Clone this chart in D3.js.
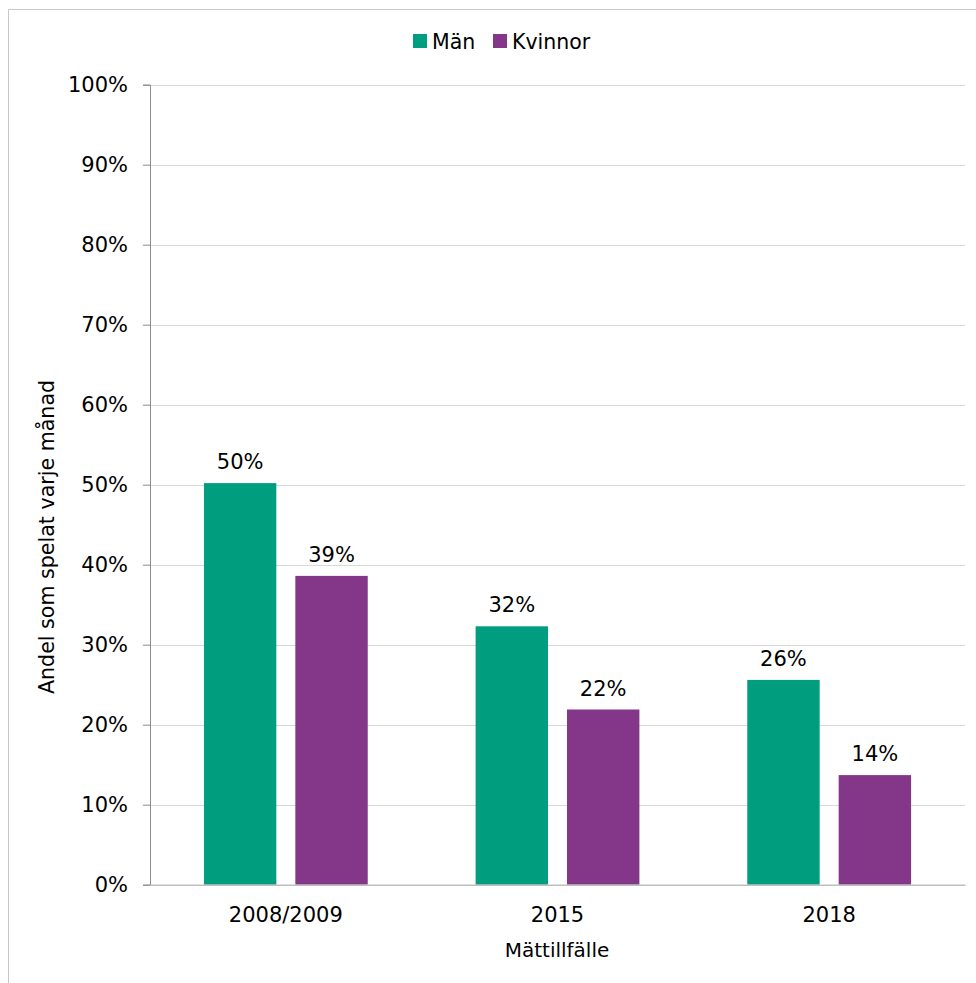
<!DOCTYPE html>
<html>
<head>
<meta charset="utf-8">
<script src="https://cdn.jsdelivr.net/npm/d3@7"></script>
<style>
  body { margin: 0; background: #fff; }
  svg { display: block; }
  text { font-family: "DejaVu Sans", Verdana, sans-serif; fill: #000; }
</style>
</head>
<body>
<svg id="chart" width="976" height="983"></svg>
<script>
const categories = ["2008/2009", "2015", "2018"];
const seriesNames = ["Män", "Kvinnor"];
const man = [50.2, 32.3, 25.6];
const kvinnor = [38.6, 21.9, 13.7];
const valueLabels = [["50%", "32%", "26%"], ["39%", "22%", "14%"]];
const yTicks = [0, 10, 20, 30, 40, 50, 60, 70, 80, 90, 100];
const colors = ["#009e7e", "#843789"];
const yTitle = "Andel som spelat varje månad";
const xTitle = "Mättillfälle";

(function () {
const svg = d3.select("#chart");
const pLeft = 150, pRight = 965, pTop = 84.7, pBottom = 884.7;
const fs = 21;

// outer border (top and left visible)
svg.append("path").attr("d", "M8.5,983 L8.5,9.5 L976,9.5")
  .attr("fill", "none").attr("stroke", "#c8c8c8").attr("stroke-width", 1);

const x = d3.scaleBand().domain(categories).range([pLeft, pRight]).paddingInner(0).paddingOuter(0);
const y = d3.scaleLinear().domain([0, 100]).range([pBottom, pTop]);

// gridlines
svg.append("g").selectAll("line").data(yTicks.filter(d => d > 0)).join("line")
  .attr("x1", pLeft).attr("x2", pRight)
  .attr("y1", d => Math.round(y(d)) + 0.5).attr("y2", d => Math.round(y(d)) + 0.5)
  .attr("stroke", "#d9d9d9").attr("stroke-width", 1);

// y axis
const yAxis = d3.axisLeft(y).tickValues(yTicks).tickFormat(d => d + "%").tickSize(7).tickPadding(15);
const gy = svg.append("g").attr("transform", `translate(${pLeft},0)`).call(yAxis);
gy.select(".domain").attr("stroke", "#8c8c8c");
gy.selectAll(".tick line").attr("stroke", "#8c8c8c");
gy.selectAll(".tick text").attr("font-size", fs).attr("font-family", "DejaVu Sans").attr("fill", "#000");

// bars
const data = [man, kvinnor];
const barW = 72.4, gap = 19;
data.forEach((vals, si) => {
  const g = svg.append("g");
  g.selectAll("rect").data(vals).join("rect")
    .attr("x", (d, i) => x(categories[i]) + x.bandwidth() / 2 - gap / 2 - barW + si * (barW + gap))
    .attr("width", barW)
    .attr("y", d => y(d))
    .attr("height", d => y(0) - y(d))
    .attr("fill", colors[si]);
  g.selectAll("text").data(vals).join("text")
    .attr("x", (d, i) => x(categories[i]) + x.bandwidth() / 2 - gap / 2 - barW / 2 + si * (barW + gap))
    .attr("y", d => y(d) - 14)
    .attr("text-anchor", "middle").attr("font-size", fs)
    .text((d, i) => valueLabels[si][i]);
});

// x axis baseline
const xAxis = d3.axisBottom(x).tickSize(0).tickPadding(22);
const gx = svg.append("g").attr("transform", `translate(0,${pBottom})`).call(xAxis);
gx.select(".domain").attr("stroke", "#bfbfbf").attr("stroke-width", 1.5);
gx.selectAll(".tick text").attr("font-size", fs).attr("font-family", "DejaVu Sans").attr("fill", "#000");

// axis titles
svg.append("text").attr("x", 557).attr("y", 957).attr("text-anchor", "middle").attr("font-size", 20).text(xTitle);
svg.append("text").attr("transform", "translate(54,537) rotate(-90)").attr("text-anchor", "middle")
  .attr("font-size", 20.6).text(yTitle);

// legend
const legendX = [413, 493];
seriesNames.forEach((n, i) => {
  svg.append("rect").attr("x", legendX[i]).attr("y", 34).attr("width", 14).attr("height", 14).attr("fill", colors[i]);
  svg.append("text").attr("x", legendX[i] + 19).attr("y", 49).attr("font-size", 20.5).text(n);
});
})();
</script>
</body>
</html>
